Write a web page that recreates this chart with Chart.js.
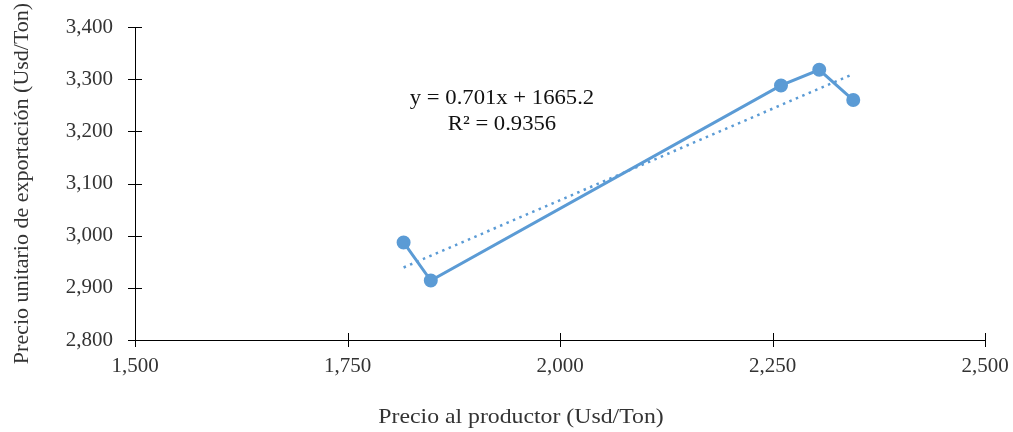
<!DOCTYPE html>
<html>
<head>
<meta charset="utf-8">
<script src="https://cdn.jsdelivr.net/npm/chart.js@4/dist/chart.umd.min.js"></script>
<style>
  body { margin:0; background:#fff; }
  #wrap { width:1013px; height:432px; }
</style>
</head>
<body>
<div id="wrap"><canvas id="chart" width="1013" height="432"></canvas></div>
<script>
// datos
const precioProductor = [1816, 1848, 2260, 2305, 2345];
const precioExportacion = [2987, 2914, 3288, 3318, 3260];
// extremos de la linea de tendencia
const tendenciaX = [1816, 2345];
const tendenciaY = [2939, 3310];
const ecuacion = ['y = 0.701x + 1665.2', 'R\u00b2 = 0.9356'];
const tituloX = 'Precio al productor (Usd/Ton)';
const tituloY = 'Precio unitario de exportaci\u00f3n (Usd/Ton)';
const xTicks = { min:1500, max:2500, step:250 };
const yTicks = { min:2800, max:3400, step:100 };

const AZUL = '#5B9BD5';
const TEXTO = '#333333';
const FUENTE = "'Liberation Serif', 'Times New Roman', serif";

const puntos = precioProductor.map((x,i)=>({ x, y: precioExportacion[i] }));
const tendencia = tendenciaX.map((x,i)=>({ x, y: tendenciaY[i] }));

// sin margenes extra por etiquetas, el area la fija layout.padding
function sinPadding(s){
  s.paddingTop = 0; s.paddingBottom = 0; s.paddingLeft = 0; s.paddingRight = 0;
}

// marcas de eje que cruzan la linea + textos libres
const extras = {
  id:'extras',
  afterDraw(chart){
    const {ctx, chartArea:a, scales:{x, y}} = chart;
    ctx.save();
    ctx.strokeStyle = '#000';
    ctx.lineWidth = 1;
    ctx.beginPath();
    x.ticks.forEach(t=>{
      const px = Math.round(x.getPixelForValue(t.value)) + 0.5;
      ctx.moveTo(px, a.bottom - 7); ctx.lineTo(px, a.bottom + 7);
    });
    y.ticks.forEach(t=>{
      const py = Math.round(y.getPixelForValue(t.value)) + 0.5;
      ctx.moveTo(a.left - 7, py); ctx.lineTo(a.left + 7, py);
    });
    ctx.stroke();

    const texto = (str, cx, cy, size, color)=>{
      ctx.save();
      ctx.translate(cx, cy);
      ctx.scale(1.08, 1);
      ctx.font = `${size}px ${FUENTE}`;
      ctx.fillStyle = color;
      ctx.textAlign = 'center';
      ctx.textBaseline = 'middle';
      ctx.fillText(str, 0, 0);
      ctx.restore();
    };
    texto(ecuacion[0], 502, 98, 21, '#111');
    texto(ecuacion[1], 502, 124, 21, '#111');
    texto(tituloX, 521, 417, 22, TEXTO);
    ctx.restore();
  }
};

new Chart(document.getElementById('chart'), {
  type:'scatter',
  data:{
    datasets:[
      { label:'tendencia', data:tendencia, showLine:true, borderColor:AZUL, borderWidth:2.5,
        borderDash:[2.5,4.5], pointRadius:0, order:0 },
      { label:'precios', data:puntos, showLine:true, borderColor:AZUL, backgroundColor:AZUL,
        borderWidth:3, pointRadius:5.5, pointHoverRadius:5.5, order:1 }
    ]
  },
  options:{
    responsive:false,
    animation:false,
    layout:{ padding:{ left:0, right:28, top:27, bottom:0 } },
    plugins:{ legend:{ display:false }, tooltip:{ enabled:false } },
    scales:{
      x:{
        type:'linear', min:xTicks.min, max:xTicks.max,
        afterFit: s => { s.height = 92; sinPadding(s); },
        grid:{ display:false, drawTicks:false },
        border:{ display:true, color:'#000', width:1 },
        ticks:{ stepSize:xTicks.step, padding:14, color:TEXTO,
          font:{ family:FUENTE, size:21 },
          callback: v => v.toLocaleString('en-US') }
      },
      y:{
        type:'linear', min:yTicks.min, max:yTicks.max,
        afterFit: s => { s.width = 135; sinPadding(s); },
        grid:{ display:false, drawTicks:false },
        border:{ display:true, color:'#000', width:1 },
        ticks:{ stepSize:yTicks.step, padding:22, color:TEXTO,
          font:{ family:FUENTE, size:21 },
          callback: v => v.toLocaleString('en-US') },
        title:{ display:true, text:tituloY, color:TEXTO, padding:{ top:9 },
          font:{ family:FUENTE, size:22 } }
      }
    }
  },
  plugins:[extras]
});
</script>
</body>
</html>
